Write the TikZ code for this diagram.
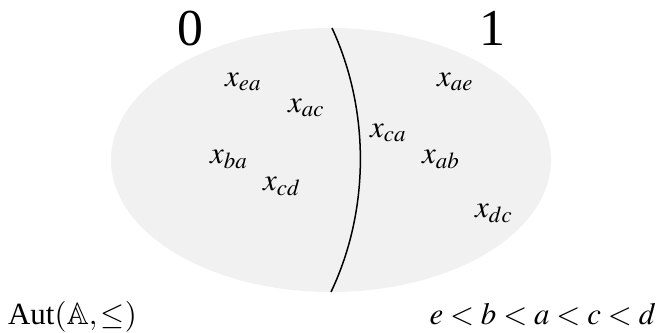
\documentclass[tikz,border=0pt]{standalone}
\usepackage{mathptmx}
\usepackage{amssymb}
\usepackage{fontspec}
\setmainfont{Liberation Serif}
\definecolor{regiongray}{HTML}{F1F1F1}
\begin{document}
\begin{tikzpicture}[x=1bp,y=-1bp,
  lbl/.style={inner sep=0pt,anchor=base west,font=\fontsize{31}{36}\selectfont},
  big/.style={inner sep=0pt,anchor=base,font=\fontsize{52}{60}\selectfont}]
\useasboundingbox (0,0) rectangle (661,332);
\fill[regiongray] (331,160) ellipse [x radius=220bp, y radius=132bp];
\coordinate (top) at (332,28);
\coordinate (bot) at (331,292);
\draw[line width=1.5bp] (top) .. controls (370,110) and (370,210) .. (bot);
\node[big] (zero) at (190,45) {0};
\node[big] (one) at (492,45) {1};
\node[lbl] (xea) at (225,86) {$x_{ea}$};
\node[lbl] (xac) at (288,112) {$x_{ac}$};
\node[lbl] (xae) at (437,86) {$x_{ae}$};
\node[lbl] (xca) at (370,137) {$x_{ca}$};
\node[lbl] (xba) at (210,163) {$x_{ba}$};
\node[lbl] (xab) at (422,163) {$x_{ab}$};
\node[lbl] (xcd) at (263,190) {$x_{cd}$};
\node[lbl] (xdc) at (475,217) {$x_{dc}$};
\node[lbl] (aut) at (8,324) {Aut$(\mathbb{A},\leq)$};
\node[lbl,anchor=base east] (ord) at (656,324) {$e<b<a<c<d$};
\end{tikzpicture}
\end{document}
